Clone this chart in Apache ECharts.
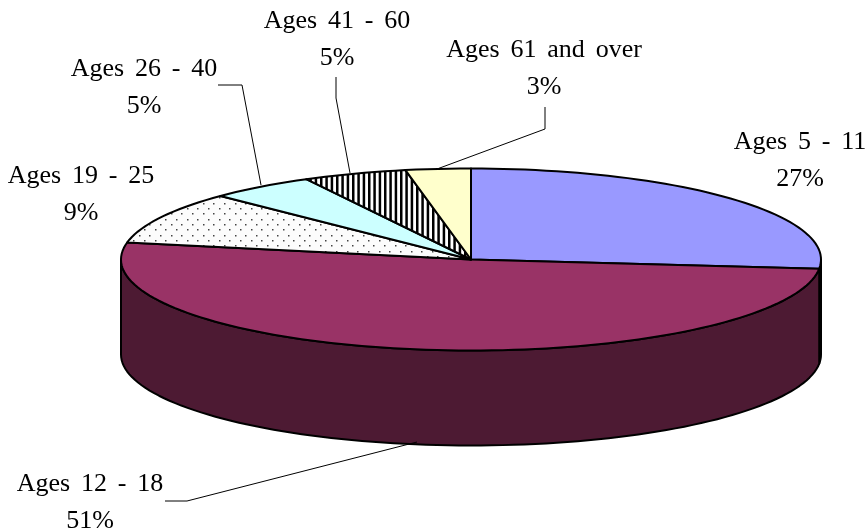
<!DOCTYPE html>
<html>
<head>
<meta charset="utf-8">
<style>html,body{margin:0;background:#fff}#main{width:867px;height:532px}</style>
<script src="https://cdn.jsdelivr.net/npm/echarts@6/dist/echarts.min.js"></script>
</head>
<body>
<div id="main"></div>
<script>
// values, clockwise from 12 o'clock
const ageGroups = ['Ages 5 - 11', 'Ages 12 - 18', 'Ages 19 - 25', 'Ages 26 - 40', 'Ages 41 - 60', 'Ages 61 and over']
const shares = [26.6, 51.4, 9.3, 4.9, 4.8, 3.0]
const percentLabels = ['27%', '51%', '9%', '5%', '5%', '3%']

const topColors = ['#9999ff', '#993366', 'dots', '#ccffff', 'stripes', '#ffffcc']
const wallColors = ['#4d4d80', '#4d1a33', '#808080', '#668080', '#000000', '#808066']
const wallDepth = 95

// label centre x and y of the two line block, then the leader line
const labelX = [800, 90, 81, 144, 337, 544]
const labelY = [161, 503, 195, 88, 40, 69]
const leaders = [
  null,
  [[165, 501], [187, 501], [417, 442]],
  null,
  [[218, 85], [242, 85], [261, 185]],
  [[336, 77], [336, 98], [350, 173]],
  [[545, 107], [545, 129], [437, 169]]
]

function patternCanvas (kind) {
  let c = document.createElement('canvas')
  let g = c.getContext('2d')
  if (kind == 'dots') {
    c.width = 32; c.height = 32
    g.fillStyle = '#fcfcfc'
    g.fillRect(0, 0, 32, 32)
    g.fillStyle = '#444'
    for (let row = 0; row < 6; row++) {
      for (let col = 0; col < 3; col++) {
        let x = Math.round(col * 32 / 3 + (row % 2) * 16 / 3)
        let y = Math.round(row * 16 / 3)
        g.fillRect(x % 32, y, 1.5, 1.5)
      }
    }
  } else {
    c.width = 16; c.height = 4
    g.fillStyle = '#fff'
    g.fillRect(0, 0, 16, 4)
    g.fillStyle = '#000'
    g.fillRect(0, 0, 2.5, 4)
    g.fillRect(5.33, 0, 2.5, 4)
    g.fillRect(10.67, 0, 2.5, 4)
  }
  return c
}

function fillOf (color) {
  if (color == 'dots' || color == 'stripes') {
    return { image: patternCanvas(color), repeat: 'repeat' }
  }
  return color
}

// angle is in percent of the full turn, clockwise from the top
function rim (api, pct) {
  let a = pct / 100 * Math.PI * 2
  return api.coord([Math.sin(a), Math.cos(a)])
}

function rimPoints (api, from, to) {
  let pts = []
  let n = Math.max(2, Math.ceil((to - from) * 2))
  for (let i = 0; i <= n; i++) pts.push(rim(api, from + (to - from) * i / n))
  return pts
}

let renderSlice = (params, api) => {
  let i = params.dataIndex
  let start = shares.slice(0, i).reduce((a, b) => a + b, 0)
  let end = start + shares[i]
  let lineStyle = { stroke: '#000', lineWidth: 2, lineJoin: 'round' }
  let children = []

  // only the part of the wall between 3 and 9 o'clock faces the viewer
  let wallFrom = Math.max(start, 25)
  let wallTo = Math.min(end, 75)
  if (wallFrom < wallTo) {
    let upper = rimPoints(api, wallFrom, wallTo)
    let lower = upper.map(p => [p[0], p[1] + wallDepth]).reverse()
    children.push({
      type: 'polygon',
      shape: { points: upper.concat(lower) },
      style: Object.assign({ fill: wallColors[i] }, lineStyle)
    })
  }
  let pts = [api.coord([0, 0])].concat(rimPoints(api, start, end))
  children.push({
    type: 'polygon',
    shape: { points: pts },
    style: Object.assign({ fill: fillOf(topColors[i]) }, lineStyle)
  })
  return { type: 'group', children: children }
}

let renderLabel = (params, api) => {
  let i = params.dataIndex
  let children = [{
    type: 'text',
    style: {
      x: labelX[i],
      y: labelY[i],
      // the word gaps in the original are wider than a plain space
      text: ageGroups[i].replace(/ /g, ' \u2006') + '\n' + percentLabels[i],
      fill: '#000',
      font: '26px "Liberation Serif"',
      align: 'center',
      verticalAlign: 'middle',
      lineHeight: 37
    }
  }]
  if (leaders[i]) {
    children.push({
      type: 'polyline',
      shape: { points: leaders[i] },
      style: { stroke: '#000', lineWidth: 1, fill: null }
    })
  }
  return { type: 'group', children: children }
}

var Chart = echarts.init(document.getElementById('main'))
var option = {
  animation: false,
  backgroundColor: '#fff',
  // the unit circle on these hidden axes lands on the flattened pie top
  grid: { left: 121, width: 700, top: 168.5, height: 182 },
  xAxis: { type: 'value', min: -1, max: 1, show: false },
  yAxis: { type: 'value', min: -1, max: 1, show: false },
  series: [
    {
      type: 'custom',
      coordinateSystem: 'cartesian2d',
      clip: false,
      silent: true,
      renderItem: renderSlice,
      data: shares.map((v, i) => [0, 0, v])
    },
    {
      type: 'custom',
      coordinateSystem: 'cartesian2d',
      clip: false,
      silent: true,
      z: 5,
      renderItem: renderLabel,
      data: shares.map((v, i) => [0, 0, v])
    }
  ]
}
Chart.setOption(option)
</script>
</body>
</html>
